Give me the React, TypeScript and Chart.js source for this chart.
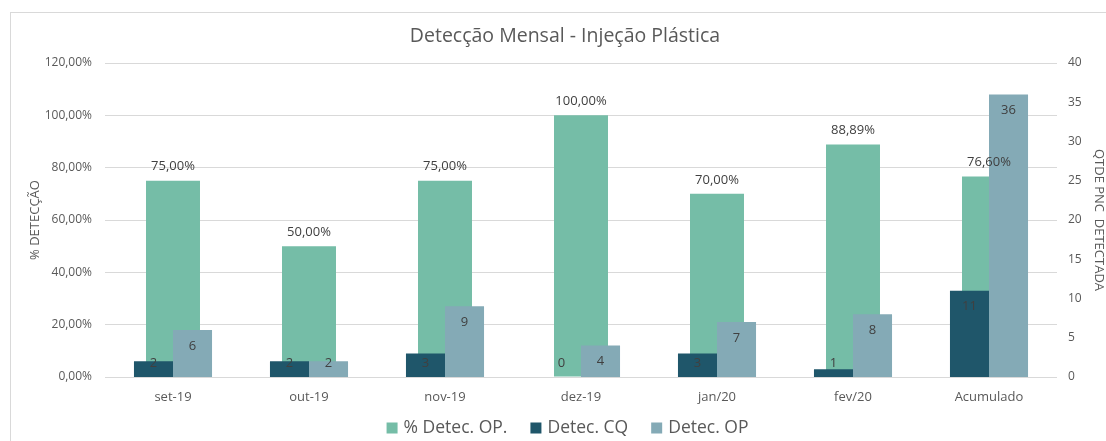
import React, { useEffect, useRef } from "react";
import { Chart, registerables } from "chart.js";

Chart.register(...registerables);

const categories = ["set-19", "out-19", "nov-19", "dez-19", "jan/20", "fev/20", "Acumulado"];
const pctDetecOP = [75, 50, 75, 100, 70, 88.89, 76.6];
const detecCQ = [2, 2, 3, 0, 3, 1, 11];
const detecOP = [6, 2, 9, 4, 7, 8, 36];
const leftTicks = { min: 0, max: 120, step: 20 };
const rightTicks = { min: 0, max: 40, step: 5 };

const FONT = "'Open Sans', 'DejaVu Sans', sans-serif";
const TEXT = "#595959";
const LABEL = "#404040";
const GREEN = "#75BDA7";
const DARK = "#1F566A";
const LIGHT = "#84AAB6";

const fmtPct = (v: number) => v.toFixed(2).replace(".", ",") + "%";

const labelPlugin = {
  id: "valueLabels",
  afterDatasetsDraw(chart: any) {
    const ctx = chart.ctx;
    ctx.save();
    ctx.font = `13px ${FONT}`;
    ctx.fillStyle = LABEL;
    ctx.textAlign = "center";
    ctx.textBaseline = "middle";
    chart.data.datasets.forEach((ds: any, di: number) => {
      const meta = chart.getDatasetMeta(di);
      meta.data.forEach((bar: any, i: number) => {
        const v = ds.data[i] as number;
        if (di === 0) {
          ctx.fillText(fmtPct(v), bar.x, bar.y - 14);
        } else {
          const y = Math.min(bar.y + 16, bar.base - 14);
          ctx.fillText(String(v), bar.x, y);
        }
      });
    });
    ctx.restore();
  },
};

const legendPlugin = {
  id: "bottomLegend",
  afterDraw(chart: any) {
    const ctx = chart.ctx;
    ctx.save();
    ctx.font = `17.5px ${FONT}`;
    ctx.textBaseline = "middle";
    ctx.textAlign = "left";
    const box = 11;
    const boxGap = 6;
    const itemGap = 23;
    const items = chart.data.datasets.map((ds: any) => ({
      text: ds.label as string,
      color: ds.backgroundColor as string,
      w: ctx.measureText(ds.label).width,
    }));
    const total =
      items.reduce((a: number, it: any) => a + box + boxGap + it.w, 0) + itemGap * (items.length - 1);
    const cx = 567.5;
    const cy = 428;
    let x = cx - total / 2;
    items.forEach((it: any) => {
      ctx.fillStyle = it.color;
      ctx.fillRect(x, cy - box / 2, box, box);
      x += box + boxGap;
      ctx.fillStyle = TEXT;
      ctx.fillText(it.text, x, cy);
      x += it.w + itemGap;
    });
    ctx.restore();
  },
};

export default function App() {
  const ref = useRef<HTMLCanvasElement | null>(null);

  useEffect(() => {
    document.body.style.margin = "0";
    document.documentElement.style.overflow = "hidden";
    if (!ref.current) return;
    const chart = new Chart(ref.current, {
      type: "bar",
      data: {
        labels: categories,
        datasets: [
          {
            label: "% Detec. OP.",
            data: pctDetecOP,
            backgroundColor: GREEN,
            yAxisID: "y",
            categoryPercentage: 1,
            barPercentage: 0.397,
            grouped: false,
            order: 1,
          },
          {
            label: "Detec. CQ",
            data: detecCQ,
            backgroundColor: DARK,
            yAxisID: "y2",
            categoryPercentage: 0.574,
            barPercentage: 1,
            order: 0,
          },
          {
            label: "Detec. OP",
            data: detecOP,
            backgroundColor: LIGHT,
            yAxisID: "y2",
            categoryPercentage: 0.574,
            barPercentage: 1,
            order: 0,
          },
        ],
      },
      options: {
        responsive: false,
        animation: false,
        devicePixelRatio: 1,
        layout: { padding: { top: 12, left: 10, right: 0, bottom: 34 } },
        plugins: {
          tooltip: { enabled: false },
          title: {
            display: true,
            text: "Detecção Mensal - Injeção Plástica",
            color: TEXT,
            font: { family: FONT, size: 19.5, weight: "normal" },
            padding: { top: 12.3, bottom: 15.3 },
          },
          legend: { display: false },
        },
        scales: {
          x: {
            type: "category",
            grid: { display: false, drawTicks: false },
            border: { display: false },
            ticks: { color: TEXT, font: { family: FONT, size: 13 }, padding: 12 },
            afterFit: (s: any) => {
              s.height = 30;
            },
          },
          y: {
            position: "left",
            min: leftTicks.min,
            max: leftTicks.max,
            ticks: {
              stepSize: leftTicks.step,
              color: TEXT,
              font: { family: FONT, size: 12 },
              padding: 13,
              callback: (v: any) => fmtPct(Number(v)),
            },
            grid: { color: "#D9D9D9", drawTicks: false, lineWidth: 1 },
            border: { display: false },
            title: {
              display: true,
              text: "% DETECÇÃO",
              color: TEXT,
              font: { family: FONT, size: 13 },
              padding: { top: 17, bottom: 0 },
            },
            afterFit: (s: any) => {
              s.width = 95;
            },
          },
          y2: {
            position: "right",
            min: rightTicks.min,
            max: rightTicks.max,
            ticks: {
              stepSize: rightTicks.step,
              color: TEXT,
              font: { family: FONT, size: 12 },
              padding: 11,
            },
            grid: { display: false, drawTicks: false },
            border: { display: false },
            title: {
              display: true,
              text: "QTDE PNC  DETECTADA",
              color: TEXT,
              font: { family: FONT, size: 13 },
              padding: { top: 13, bottom: 0 },
            },
            afterFit: (s: any) => {
              s.width = 63;
            },
          },
        },
      },
      plugins: [labelPlugin, legendPlugin],
    } as any);
    return () => chart.destroy();
  }, []);

  return (
    <div style={{ position: "relative", width: 1106, height: 441, overflow: "hidden", background: "#fff" }}>
      <div
        style={{
          position: "absolute",
          left: 10,
          top: 12,
          width: 1200,
          height: 600,
          border: "1px solid #D9D9D9",
          boxSizing: "border-box",
        }}
      />
      <canvas ref={ref} width={1120} height={441} style={{ position: "absolute", left: 0, top: 0, width: 1120, height: 441 }} />
    </div>
  );
}
